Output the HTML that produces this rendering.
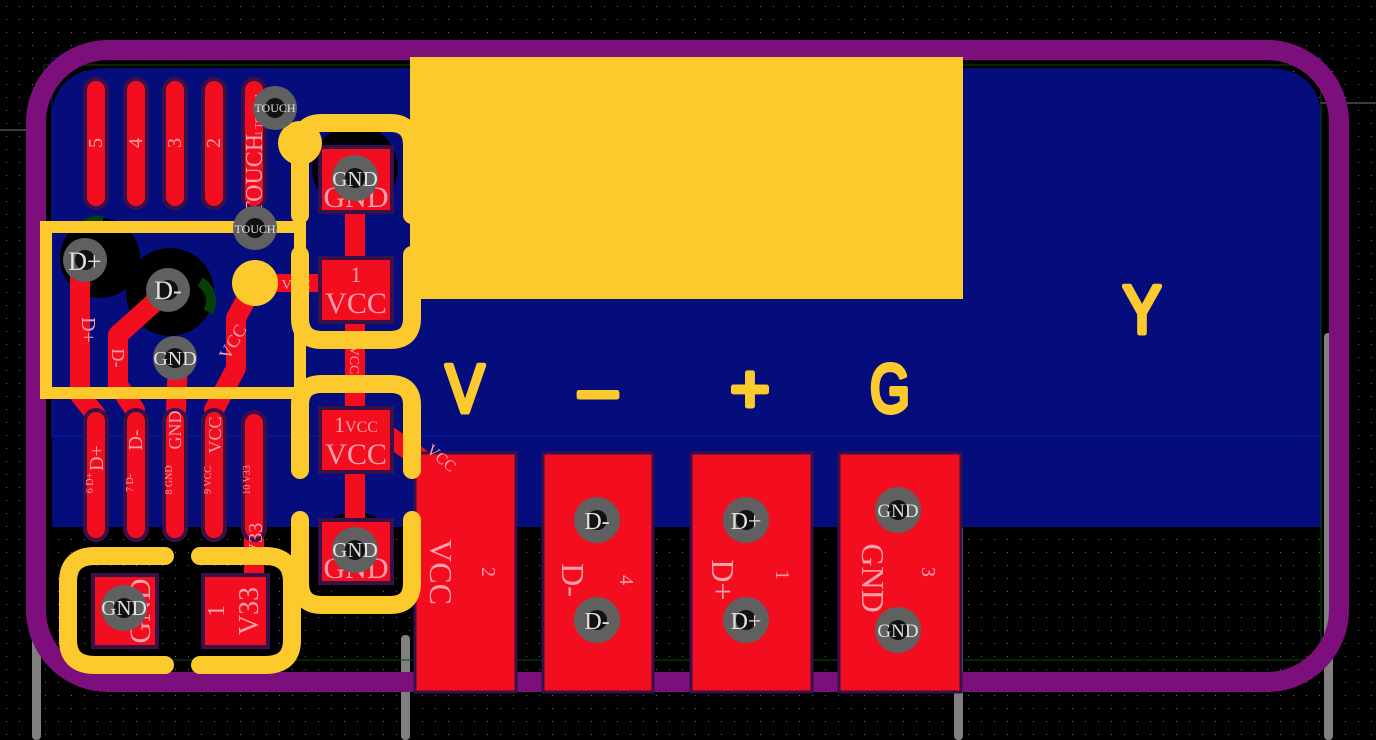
<!DOCTYPE html>
<html><head><meta charset="utf-8"><style>
html,body{margin:0;padding:0;background:#000;}
svg{display:block;}
.serif{font-family:"Liberation Serif",serif;}
.big{font-family:"Liberation Sans",sans-serif;}
</style></head><body>
<svg width="1376" height="740" viewBox="0 0 1376 740" xmlns="http://www.w3.org/2000/svg">
<defs>
<pattern id="dots" width="13" height="13" patternUnits="userSpaceOnUse">
<rect x="6" y="6" width="1" height="1" fill="#6a6a6a"/>
</pattern>
</defs>
<rect width="1376" height="740" fill="#000"/>
<rect width="1376" height="740" fill="url(#dots)"/>
<line x1="0" y1="130" x2="40" y2="130" stroke="#777" stroke-width="1"/>
<line x1="1320" y1="103" x2="1376" y2="103" stroke="#777" stroke-width="1"/>

<rect x="32" y="590" width="9" height="150" rx="4" fill="#808080"/>
<rect x="401" y="635" width="9" height="105" rx="4" fill="#808080"/>
<rect x="954" y="525" width="9" height="215" rx="4" fill="#808080"/>
<rect x="1324" y="333" width="9" height="407" rx="4" fill="#808080"/>

<path d="M52,120 Q52,68 110,68 L1265,68 Q1321,68 1321,120 L1321,527 L52,527 Z" fill="#050c7c"/>
<rect x="52" y="58" width="1269" height="378" fill="none" stroke="#0a1ca0" stroke-width="1"/>
<rect x="44" y="65" width="1277" height="595" fill="none" stroke="#0a4a0a" stroke-width="1"/>

<rect x="36" y="50" width="1303" height="632" rx="72" fill="none" stroke="#7d0f7d" stroke-width="20"/>

<circle cx="100" cy="258" r="40" fill="#000"/>
<circle cx="170" cy="292" r="44" fill="#000"/>
<path d="M200,282 a22,22 0 0 1 8,30" stroke="#064006" stroke-width="10" fill="none"/>
<path d="M78,230 a26,26 0 0 1 25,-10" stroke="#064006" stroke-width="8" fill="none"/>
<circle cx="355" cy="168" r="43" fill="#000"/>
<circle cx="355" cy="555" r="43" fill="#000"/>

<rect x="410" y="57" width="553" height="242" fill="#fdca2e"/>

<g stroke="#f20d1f" stroke-linecap="round" stroke-linejoin="round" fill="none">
<path d="M80,262 L80,395 L96,415" stroke-width="20"/>
<path d="M168,290 L118,335 L118,385 L135,410" stroke-width="20"/>
<path d="M178,358 L176,410" stroke-width="20"/>
<path d="M255,283 L236,318 L236,368 L214,410" stroke-width="20"/>
<path d="M255,283 L330,283" stroke-width="18"/>
<path d="M355,180 L355,540" stroke-width="20"/>
<path d="M380,430 L430,465" stroke-width="20"/>
<path d="M254,430 L254,580" stroke-width="20"/>
</g>

<g fill="#f20d1f" stroke="#3a1048" stroke-width="4">
<rect x="85" y="79" width="22" height="129" rx="11"/>
<rect x="125" y="79" width="22" height="129" rx="11"/>
<rect x="164" y="79" width="22" height="129" rx="11"/>
<rect x="203" y="79" width="22" height="129" rx="11"/>
<rect x="243" y="79" width="22" height="129" rx="11"/>
<rect x="85" y="410" width="22" height="130" rx="11"/>
<rect x="125" y="410" width="22" height="130" rx="11"/>
<rect x="164" y="410" width="22" height="130" rx="11"/>
<rect x="203" y="410" width="22" height="130" rx="11"/>
<rect x="243" y="412" width="22" height="128" rx="11"/>
</g>
<g fill="#f20d1f" stroke="#3a1048" stroke-width="4">
<rect x="320" y="147" width="72" height="65"/>
<rect x="320" y="258" width="72" height="64"/>
<rect x="320" y="408" width="72" height="64"/>
<rect x="320" y="520" width="72" height="63"/>
<rect x="93" y="575" width="64" height="72"/>
<rect x="203" y="575" width="65" height="72"/>
</g>
<g fill="#f20d1f" stroke="#3a1048" stroke-width="3">
<rect x="415" y="453" width="101" height="239"/>
<rect x="543" y="453" width="110" height="239"/>
<rect x="691" y="453" width="121" height="239"/>
<rect x="839" y="453" width="122" height="239"/>
</g>

<g class="serif" fill="#ffa0ac" font-size="20" text-anchor="middle">
<text transform="translate(102,143) rotate(-90)">5</text>
<text transform="translate(142,143) rotate(-90)">4</text>
<text transform="translate(181,143) rotate(-90)">3</text>
<text transform="translate(220,143) rotate(-90)">2</text>
<text transform="translate(262,175) rotate(-90)" font-size="24">TOUCH</text>
<text transform="translate(262,115) rotate(-90)" font-size="10">1 TOUCH</text>
<text transform="translate(103,458) rotate(-90)" font-size="20">D+</text>
<text transform="translate(142,440) rotate(-90)" font-size="20">D-</text>
<text transform="translate(181,430) rotate(-90)" font-size="18">GND</text>
<text transform="translate(221,435) rotate(-90)" font-size="18">VCC</text>
<text transform="translate(262,540) rotate(-90)" font-size="20">V33</text>
<text transform="translate(93,483) rotate(-90)" font-size="10">6 D+</text>
<text transform="translate(133,483) rotate(-90)" font-size="10">7 D-</text>
<text transform="translate(172,480) rotate(-90)" font-size="10">8 GND</text>
<text transform="translate(211,480) rotate(-90)" font-size="10">9 VCC</text>
<text transform="translate(250,480) rotate(-90)" font-size="10">10 V33</text>
<text transform="translate(82,330) rotate(90)" font-size="20">D+</text>
<text transform="translate(112,358) rotate(90)" font-size="18">D-</text>
<text transform="translate(238,345) rotate(-60)" font-size="18">VCC</text>
<text x="356" y="207" font-size="30">GND</text>
<text x="356" y="282" font-size="22">1</text>
<text x="356" y="313" font-size="30">VCC</text>
<text x="356" y="432" font-size="22">1<tspan font-size="16">VCC</tspan></text>
<text x="356" y="464" font-size="30">VCC</text>
<text x="356" y="578" font-size="30">GND</text>
<text transform="translate(150,611) rotate(-90)" font-size="30">GND</text>
<text transform="translate(224,611) rotate(-90)" font-size="24">1</text>
<text transform="translate(258,611) rotate(-90)" font-size="28">V33</text>
<text transform="translate(430,572) rotate(90)" font-size="32">VCC</text>
<text transform="translate(482,572) rotate(90)" font-size="20">2</text>
<text transform="translate(562,580) rotate(90)" font-size="32">D-</text>
<text transform="translate(620,580) rotate(90)" font-size="20">4</text>
<text transform="translate(712,580) rotate(90)" font-size="32">D+</text>
<text transform="translate(776,575) rotate(90)" font-size="20">1</text>
<text transform="translate(862,578) rotate(90)" font-size="32">GND</text>
<text transform="translate(922,572) rotate(90)" font-size="20">3</text>
<text transform="translate(438,462) rotate(40)" font-size="16">VCC</text>
<text transform="translate(296,289)" font-size="14">VCC</text>
<text transform="translate(350,360) rotate(90)" font-size="14">VCC</text>
</g>

<g stroke="#fdca2e" stroke-linecap="round" fill="none">
<path d="M300,215 L300,145 Q300,123 322,123 L390,123 Q412,123 412,145 L412,215" stroke-width="18"/>
<path d="M300,255 L300,318 Q300,340 322,340 L390,340 Q412,340 412,318 L412,255" stroke-width="18"/>
<path d="M300,470 L300,405 Q300,384 322,384 L390,384 Q412,384 412,405 L412,470" stroke-width="18"/>
<path d="M300,520 L300,583 Q300,605 322,605 L390,605 Q412,605 412,583 L412,520" stroke-width="18"/>
<path d="M165,556 L95,556 Q68,556 68,582 L68,640 Q68,665 95,665 L165,665" stroke-width="18"/>
<path d="M200,556 L265,556 Q292,556 292,582 L292,640 Q292,665 265,665 L200,665" stroke-width="18"/>
<path d="M46,227 L300,227 L300,393 L46,393 Z" stroke-width="12" stroke-linecap="butt" stroke-linejoin="miter"/>
</g>
<circle cx="300" cy="143" r="22" fill="#fdca2e"/>
<circle cx="255" cy="283" r="23" fill="#fdca2e"/>

<g>
<g fill="#606060"><circle cx="275" cy="108" r="22"/><circle cx="255" cy="228" r="22"/>
<circle cx="85" cy="260" r="22"/><circle cx="168" cy="290" r="22"/><circle cx="175" cy="358" r="22"/>
<circle cx="355" cy="178" r="23"/><circle cx="355" cy="550" r="23"/><circle cx="124" cy="608" r="23"/>
<circle cx="597" cy="520" r="23"/><circle cx="597" cy="620" r="23"/><circle cx="746" cy="520" r="23"/><circle cx="746" cy="620" r="23"/>
<circle cx="898" cy="510" r="23"/><circle cx="898" cy="630" r="23"/></g>
<g fill="#111"><circle cx="275" cy="108" r="10"/><circle cx="255" cy="228" r="10"/>
<circle cx="85" cy="260" r="10"/><circle cx="168" cy="290" r="10"/><circle cx="175" cy="358" r="10"/>
<circle cx="355" cy="178" r="10"/><circle cx="355" cy="550" r="10"/><circle cx="124" cy="608" r="10"/>
<circle cx="597" cy="520" r="10"/><circle cx="597" cy="620" r="10"/><circle cx="746" cy="520" r="10"/><circle cx="746" cy="620" r="10"/>
<circle cx="898" cy="510" r="10"/><circle cx="898" cy="630" r="10"/></g>
<g class="serif" fill="#e0e0e0" text-anchor="middle">
<text x="275" y="112" font-size="12">TOUCH</text>
<text x="255" y="233" font-size="12">TOUCH</text>
<text x="85" y="270" font-size="26">D+</text>
<text x="168" y="299" font-size="26">D-</text>
<text x="175" y="365" font-size="20">GND</text>
<text x="355" y="186" font-size="21">GND</text>
<text x="355" y="557" font-size="21">GND</text>
<text x="124" y="615" font-size="21">GND</text>
<text x="597" y="529" font-size="24">D-</text>
<text x="597" y="629" font-size="24">D-</text>
<text x="746" y="529" font-size="24">D+</text>
<text x="746" y="629" font-size="24">D+</text>
<text x="898" y="517" font-size="19">GND</text>
<text x="898" y="637" font-size="19">GND</text>
</g>
</g>

<g class="big" fill="#fdca2e" stroke="#fdca2e" stroke-width="5" stroke-linejoin="round" stroke-linecap="round" font-size="68" text-anchor="middle">
<text x="465" y="412" transform="translate(465,0) scale(0.85,1) translate(-465,0)">V</text>
<text x="598" y="412">–</text>
<text x="750" y="412">+</text>
<text x="890" y="412" transform="translate(890,0) scale(0.75,1) translate(-890,0)">G</text>
<text x="1142" y="333" transform="translate(1142,0) scale(0.85,1) translate(-1142,0)">Y</text>
</g>
</svg>
</body></html>
